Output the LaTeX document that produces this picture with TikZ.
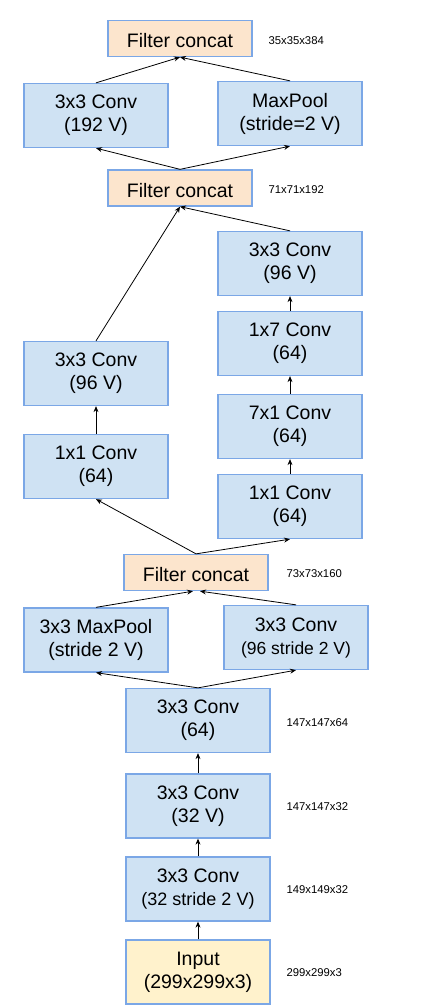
\documentclass[tikz,border=0pt]{standalone}
\usepackage{fontspec}
\setmainfont{Liberation Sans}
\usetikzlibrary{arrows.meta}
\definecolor{convfill}{HTML}{CFE2F3}
\definecolor{catfill}{HTML}{FCE5CD}
\definecolor{infill}{HTML}{FFF2CC}
\definecolor{edgeblue}{HTML}{7BA7E6}
\tikzset{
  blk/.style={draw=edgeblue, line width=1.3pt, minimum width=144pt, align=center,
    inner sep=0pt, font=\fontsize{19.5}{23}\selectfont,
    execute at begin node={\rule{0pt}{19pt}}},
  conv/.style={blk, fill=convfill, minimum height=64pt},
  concat/.style={blk, fill=catfill, minimum height=36pt},
  inp/.style={blk, fill=infill, minimum height=64pt},
  dim/.style={anchor=west, font=\fontsize{11.3}{13}\selectfont},
  arr/.style={-{Stealth[length=6pt,width=5pt]}, line width=0.8pt}
}
\begin{document}
\begin{tikzpicture}[x=1pt,y=-1pt]
    \useasboundingbox (0,0) rectangle (441,1006);
    %% stem
    \node[inp] (inp) at (198,972) {Input\\(299x299x3)};
    \node[conv] (c32s) at (198,889) {3x3 Conv\\{\fontsize{18}{23}\selectfont(32 stride 2 V)}};
    \node[conv] (c32) at (198,806) {3x3 Conv\\(32 V)};
    \node[conv] (c64) at (198,720.5) {3x3 Conv\\(64)};
    \node[dim] (d0) at (283,973) {299x299x3};
    \node[dim] (d1) at (283,890) {149x149x32};
    \node[dim] (d2) at (283,807) {147x147x32};
    \node[dim] (d3) at (283,723) {147x147x64};
    %% first split
    \node[conv] (mp3) at (96,640) {3x3 MaxPool\\(stride 2 V)};
    \node[conv] (c96s) at (296,637.5) {3x3 Conv\\{\fontsize{17.5}{23}\selectfont(96 stride 2 V)}};
    \node[concat] (fc3) at (196,572.5) {Filter concat};
    \node[dim] (d4) at (283,574) {73x73x160};
    %% second split
    \node[conv] (l11) at (96,466.5) {1x1 Conv\\(64)};
    \node[conv] (l96) at (96,373.5) {3x3 Conv\\(96 V)};
    \node[conv] (r11) at (290,506.5) {1x1 Conv\\(64)};
    \node[conv] (r71) at (290,426.5) {7x1 Conv\\(64)};
    \node[conv] (r17) at (290,343.5) {1x7 Conv\\(64)};
    \node[conv] (r96) at (290,263.5) {3x3 Conv\\(96 V)};
    \node[concat] (fc2) at (180,188) {Filter concat};
    \node[dim] (d5) at (265,190) {71x71x192};
    %% third split
    \node[conv] (c192) at (96,115.5) {3x3 Conv\\(192 V)};
    \node[conv] (mp) at (290,113.5) {MaxPool\\(stride=2 V)};
    \node[concat] (fc1) at (180,38.5) {Filter concat};
    \node[dim] (d6) at (265,41) {35x35x384};
    %% arrows
    \draw[arr] (inp) -- (c32s);
    \draw[arr] (c32s) -- (c32);
    \draw[arr] (c32) -- (c64);
    \draw[arr] (c64.north) -- (mp3.south);
    \draw[arr] (c64.north) -- (c96s.south);
    \draw[arr] (mp3.north) -- ([xshift=-3pt]fc3.south);
    \draw[arr] (c96s.north) -- ([xshift=4pt]fc3.south);
    \draw[arr] (fc3.north) -- (l11.south);
    \draw[arr] (fc3.north) -- (r11.south);
    \draw[arr] (l11) -- (l96);
    \draw[arr] (r11) -- (r71);
    \draw[arr] (r71) -- (r17);
    \draw[arr] (r17) -- (r96);
    \draw[arr] (l96.north) -- (fc2.south);
    \draw[arr] (r96.north) -- (fc2.south);
    \draw[arr] (fc2.north) -- (c192.south);
    \draw[arr] (fc2.north) -- (mp.south);
    \draw[arr] (c192.north) -- (fc1.south);
    \draw[arr] (mp.north) -- (fc1.south);
\end{tikzpicture}
\end{document}
